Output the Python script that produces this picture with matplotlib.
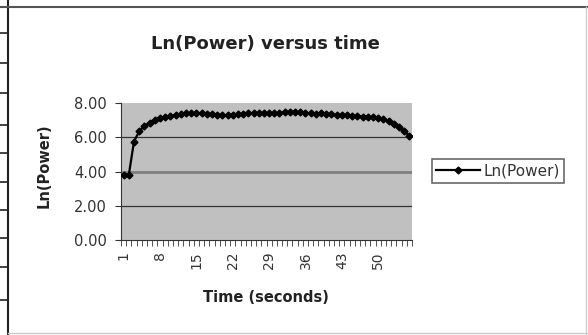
import matplotlib.pyplot as plt
from matplotlib.lines import Line2D
import numpy as np

plt.rcParams['font.family'] = ['DejaVu Sans']

# time in seconds and ln of power
seconds = list(range(1, 57))
ln_power = [3.80, 3.80, 5.75, 6.35, 6.65, 6.85, 7.00, 7.10, 7.20, 7.25,
            7.30, 7.35, 7.40, 7.40, 7.42, 7.40, 7.38, 7.35, 7.30, 7.28,
            7.30, 7.32, 7.35, 7.38, 7.40, 7.40, 7.42, 7.40, 7.42, 7.40,
            7.42, 7.45, 7.48, 7.50, 7.45, 7.42, 7.40, 7.38, 7.40, 7.35,
            7.33, 7.30, 7.30, 7.28, 7.25, 7.25, 7.20, 7.20, 7.17, 7.12,
            7.05, 6.95, 6.80, 6.60, 6.35, 6.08]
y_ticks = [0, 2, 4, 6, 8]
label_every = 7

W, H = 588, 335
fig = plt.figure(figsize=(W / 100, H / 100), dpi=100)
fig.patch.set_facecolor('white')

# spreadsheet frame around the chart
fig.add_artist(Line2D([8 / W, 8 / W], [0, 1], color='#222222', lw=1.5))
fig.add_artist(Line2D([0, 1], [1 - 7 / H, 1 - 7 / H], color='#555555', lw=1.5))
fig.add_artist(Line2D([586 / W, 586 / W], [0, 1 - 7 / H], color='#cccccc', lw=1))
fig.add_artist(Line2D([8 / W, 1], [2 / H, 2 / H], color='#cccccc', lw=1))
for yy in [33, 63, 93, 125, 153, 182, 210, 238, 267, 300]:
    fig.add_artist(Line2D([0, 8 / W], [1 - yy / H, 1 - yy / H], color='#222222', lw=1.2))

ax = fig.add_axes([121 / W, 1 - 240 / H, 291 / W, 137 / H])
ax.set_facecolor('#c0c0c0')

n = len(seconds)
ax.plot(seconds, ln_power, color='black', lw=1.6, marker='D', ms=3.5,
        label='Ln(Power)', zorder=3)

ax.set_xlim(0.5, n + 0.5)
ax.set_ylim(0, 8)
ax.set_yticks(y_ticks)
ax.set_yticklabels([f'{v:.2f}' for v in y_ticks], fontsize=10.5, color='#333333')
for v in y_ticks[1:-1]:
    if v == 4:
        ax.axhline(v, color='#808080', lw=2, zorder=1)
    else:
        ax.axhline(v, color='#333333', lw=0.9, zorder=1)

ax.set_xticks(seconds[::label_every])
ax.set_xticklabels([str(s) for s in seconds[::label_every]], rotation=90,
                   fontsize=10, color='#333333')
ax.set_xticks(np.arange(0.5, n + 1, 1), minor=True)
ax.tick_params(axis='x', which='major', length=0, pad=8)
ax.tick_params(axis='x', which='minor', length=4, direction='out', color='#333333')
ax.tick_params(axis='y', length=4, direction='out', color='#333333', pad=6)

for side in ['top', 'right']:
    ax.spines[side].set_visible(False)
ax.spines['left'].set_color('#333333')
ax.spines['bottom'].set_color('#333333')

fig.text(265 / W, 1 - 44 / H, 'Ln(Power) versus time', ha='center', va='center',
         fontsize=13, fontweight='bold', color='#222222')
fig.text(44 / W, 1 - 166 / H, 'Ln(Power)', ha='center', va='center', rotation=90,
         fontsize=10.5, fontweight='bold', color='#222222')
fig.text(266 / W, 1 - 297 / H, 'Time (seconds)', ha='center', va='center',
         fontsize=10.5, fontweight='bold', color='#222222')

leg = fig.legend(loc='center', bbox_to_anchor=(498 / W, 1 - 171 / H), fontsize=11,
                 frameon=True, fancybox=False, handlelength=2.9, borderpad=0.3,
                 handletextpad=0.2)
leg.get_frame().set_edgecolor('#444444')
leg.get_frame().set_linewidth(1.2)
for t in leg.get_texts():
    t.set_color('#333333')

fig.savefig('out.png', dpi=100)
